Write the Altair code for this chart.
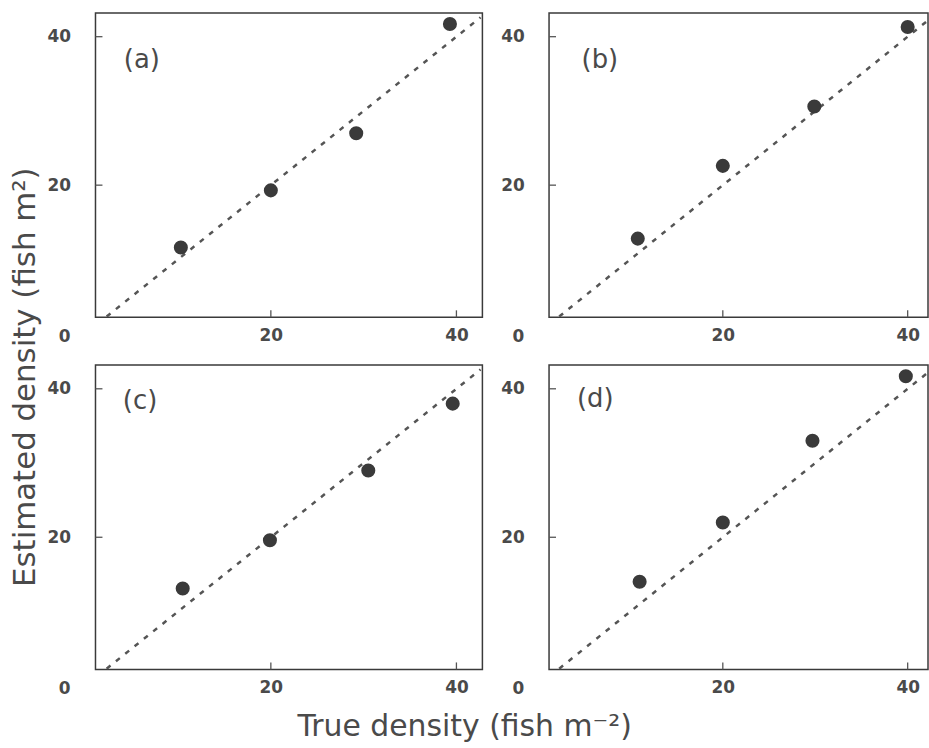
import altair as alt
import pandas as pd

FONT = "DejaVu Sans"
TEXT_COLOR = "#4a4a4a"

panel_names = ["(a)", "(b)", "(c)", "(d)"]

true_a = [10.3, 20.0, 29.2, 39.3]
est_a = [11.6, 19.3, 27.0, 41.7]
true_b = [10.8, 20.0, 29.9, 40.0]
est_b = [12.8, 22.6, 30.6, 41.3]
true_c = [10.5, 19.9, 30.5, 39.6]
est_c = [13.1, 19.6, 29.0, 38.0]
true_d = [11.0, 20.0, 29.7, 39.8]
est_d = [14.0, 22.0, 33.0, 41.7]

# 1:1 reference line end points
line_x = [2.3, 42.6]
line_y = [2.3, 42.6]

tick_values = [20, 40]
x_domains = [[1.1, 42.8], [1.2, 42.2], [1.1, 42.8], [1.2, 42.2]]
y_domain = [2.2, 43.2]
label_x = [6.1, 6.7, 5.9, 6.2]
label_y = [36.8, 36.8, 38.4, 38.6]
origin_label = ["0"]

W_LEFT, W_RIGHT, H = 389, 381, 306
TICK_LEN = 7


def panel(i, xs, ys, width):
    xd = x_domains[i]
    xsc = alt.Scale(domain=xd, nice=False, zero=False)
    ysc = alt.Scale(domain=y_domain, nice=False, zero=False)
    lab_common = dict(values=tick_values, ticks=False, domain=False, grid=False,
                      title=None, labelFont=FONT, labelFontSize=17,
                      labelFontWeight="bold", labelColor=TEXT_COLOR)
    ax_x = alt.Axis(orient="bottom", labelPadding=10, **lab_common)
    ax_y = alt.Axis(orient="left", labelPadding=25, **lab_common)

    df_pts = pd.DataFrame({"true": xs, "est": ys})
    df_line = pd.DataFrame({"true": line_x, "est": line_y})
    df_ticks = pd.DataFrame({"v": tick_values})

    line = alt.Chart(df_line).mark_line(
        strokeDash=[5, 7], strokeWidth=2.5, color="#555", clip=True
    ).encode(
        x=alt.X("true:Q", scale=xsc, axis=ax_x),
        y=alt.Y("est:Q", scale=ysc, axis=ax_y),
    )
    points = alt.Chart(df_pts).mark_circle(size=200, color="#3a3a3a", opacity=1).encode(
        x=alt.X("true:Q", scale=xsc, axis=ax_x),
        y=alt.Y("est:Q", scale=ysc, axis=ax_y),
    )
    # inward ticks along the bottom and left frame edges
    xticks = alt.Chart(df_ticks).mark_rule(color="#555", strokeWidth=1.3).encode(
        x=alt.X("v:Q", scale=xsc, axis=ax_x),
        y=alt.value(H),
        y2=alt.value(H - TICK_LEN),
    )
    yticks = alt.Chart(df_ticks).mark_rule(color="#555", strokeWidth=1.3).encode(
        y=alt.Y("v:Q", scale=ysc, axis=ax_y),
        x=alt.value(0),
        x2=alt.value(TICK_LEN),
    )
    lab = alt.Chart(pd.DataFrame({"x": [label_x[i]], "y": [label_y[i]], "t": [panel_names[i]]})).mark_text(
        font=FONT, fontSize=26, color=TEXT_COLOR, align="center", baseline="middle"
    ).encode(
        x=alt.X("x:Q", axis=ax_x),
        y=alt.Y("y:Q", axis=ax_y),
        text="t:N",
    )
    zero = alt.Chart(pd.DataFrame({"x": [xd[0]], "y": [0], "t": origin_label})).mark_text(
        font=FONT, fontSize=17, fontWeight="bold", color=TEXT_COLOR,
        align="right", baseline="middle", dx=-25, dy=3
    ).encode(
        x=alt.X("x:Q", axis=ax_x),
        y=alt.Y("y:Q", axis=ax_y),
        text="t:N",
    )
    return alt.layer(line, xticks, yticks, points, lab, zero).properties(width=width, height=H)


pa = panel(0, true_a, est_a, W_LEFT)
pb = panel(1, true_b, est_b, W_RIGHT)
pc = panel(2, true_c, est_c, W_LEFT)
pd_ = panel(3, true_d, est_d, W_RIGHT)

row1 = alt.hconcat(pa, pb, spacing=16)
row2 = alt.hconcat(pc, pd_, spacing=16)

x_title = alt.TitleParams(
    text="True density (fish m⁻²)", orient="bottom", anchor="middle",
    font=FONT, fontSize=30, fontWeight="normal", color=TEXT_COLOR, offset=15, dx=-23
)
y_title = alt.TitleParams(
    text="Estimated density (fish m²)", orient="left", anchor="middle",
    font=FONT, fontSize=31, fontWeight="normal", color=TEXT_COLOR, offset=4
)

inner = alt.vconcat(row1, row2, spacing=18, title=x_title)
chart = alt.hconcat(
    inner, title=y_title, background="white",
    padding={"left": 10, "top": 10, "right": 0, "bottom": 0}
).configure_view(stroke="#3a3a3a", strokeWidth=1.5)

chart.save("out.html", embed_options={"renderer": "svg", "actions": False})
